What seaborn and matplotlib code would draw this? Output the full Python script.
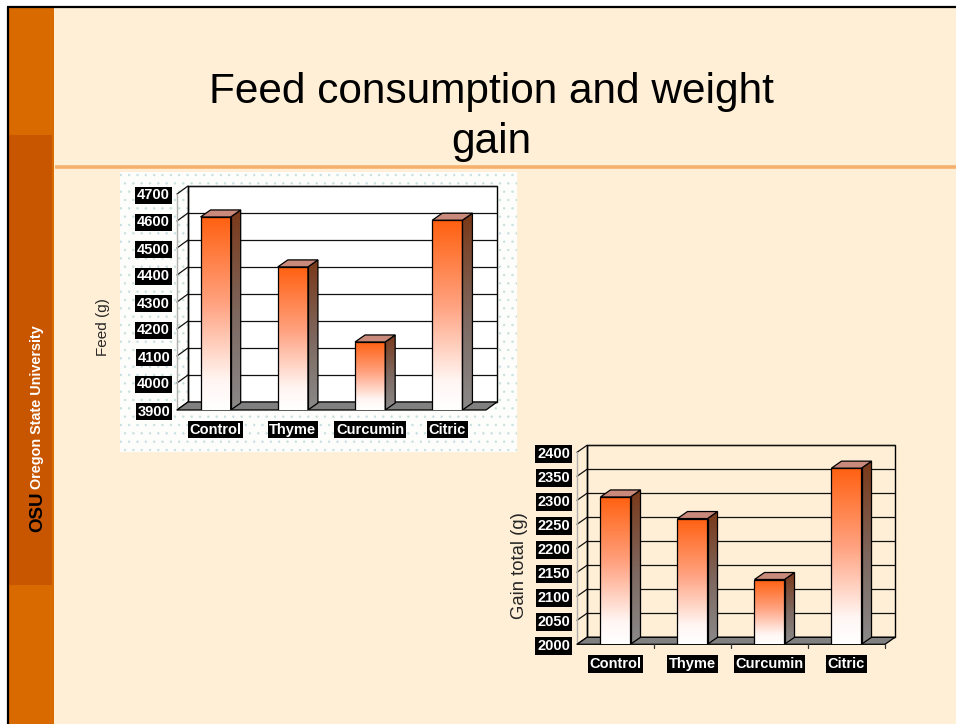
import numpy as np
import matplotlib
matplotlib.use('Agg')
import matplotlib.pyplot as plt
import seaborn as sns
import pandas as pd
from matplotlib.patches import Rectangle, Polygon
from matplotlib.colors import LinearSegmentedColormap

# ---------------- data ----------------
categories = ['Control', 'Thyme', 'Curcumin', 'Citric']
feed_values = [4615, 4430, 4152, 4603]
gain_values = [2307, 2262, 2135, 2367]
feed_ticks = [3900, 4000, 4100, 4200, 4300, 4400, 4500, 4600, 4700]
gain_ticks = [2000, 2050, 2100, 2150, 2200, 2250, 2300, 2350, 2400]
title_lines = ['Feed consumption and weight', 'gain']
feed_label = 'Feed (g)'
gain_label = 'Gain total (g)'

sns.set_style('white')
plt.rcParams['font.family'] = ['Liberation Sans', 'DejaVu Sans']

W, H = 956, 724
fig = plt.figure(figsize=(W / 100, H / 100), dpi=100)
fig.patch.set_facecolor('#FFEFD7')

# background / slide decoration axes in pixel coordinates
bg = fig.add_axes([0, 0, 1, 1], zorder=0)
bg.set_xlim(0, W)
bg.set_ylim(H, 0)
bg.axis('off')
bg.add_patch(Rectangle((0, 0), W, 7, fc='white', ec='none'))
bg.add_patch(Rectangle((0, 0), 7, H, fc='white', ec='none'))
bg.add_patch(Rectangle((8.5, 7.5), 46, H, fc='#D86A00', ec='none'))
bg.add_patch(Rectangle((8.5, 135), 43.5, 450, fc='#C85500', ec='none'))
bg.plot([7, W], [7, 7], color='black', lw=1.6, solid_capstyle='butt')
bg.plot([8, 8], [7, H], color='black', lw=1.6, solid_capstyle='butt')
bg.plot([55, W], [167, 167], color='#F4B06C', lw=2.6, solid_capstyle='butt')

# OSU logo text
bg.text(41, 407, 'Oregon State University', rotation=90, rotation_mode='anchor',
        ha='center', va='baseline', color='white', fontweight='bold', fontsize=10.4)
bg.text(42, 512, 'OSU', rotation=90, rotation_mode='anchor',
        ha='center', va='baseline', color='black', fontweight='bold', fontsize=13.5)

# title
bg.text(491, 103, title_lines[0], ha='center', va='baseline', fontsize=30.5, color='black')
bg.text(491, 153, title_lines[1], ha='center', va='baseline', fontsize=30.5, color='black')

# dotted panel behind chart 1
plt.rcParams['hatch.linewidth'] = 0.5
bg.add_patch(Rectangle((120, 172), 397, 280, fc='#FDFDFB', ec='#C6E0E0', hatch='..', lw=0))

# y labels
bg.text(103, 327, feed_label, rotation=90, ha='center', va='center', fontsize=11)
bg.text(520, 566, gain_label, rotation=90, ha='center', va='center', fontsize=13.3)

front_cmap = LinearSegmentedColormap.from_list(
    'front', [(0, '#FFFFFF'), (0.15, '#FFF6F3'), (0.55, '#FFA280'), (1, '#FF6010')])
side_cmap = LinearSegmentedColormap.from_list(
    'side', [(0, '#8A8A8A'), (0.45, '#7E6A62'), (1, '#7A3818')])
grad = np.linspace(0, 1, 256).reshape(-1, 1)


def draw_chart(rect_px, values, ticks, wall_off, bar_off, wall_face, bottom_ticks):
    x, y, w, h = rect_px
    ax = fig.add_axes([x / W, 1 - (y + h) / H, w / W, h / H], zorder=2)
    ax.set_facecolor('none')
    df = pd.DataFrame({'category': categories, 'value': values})
    sns.barplot(data=df, x='category', y='value', ax=ax, width=0.39, errorbar=None,
                color='#FF6010', saturation=1, edgecolor='black', linewidth=0.9, zorder=6)
    yb, yt = ticks[0], ticks[-1]
    ux = 4.0 / w
    uy = (yt - yb) / h
    wdx, wdy = wall_off[0] * ux, wall_off[1] * uy
    bdx, bdy = bar_off[0] * ux, bar_off[1] * uy

    # back wall
    ax.add_patch(Rectangle((-0.5 + wdx, yb + wdy), 4, yt - yb, fc=wall_face, ec='black',
                           lw=1.0, zorder=0.5, clip_on=False))
    for t in ticks:
        ax.plot([-0.5 + wdx, 3.5 + wdx], [t + wdy, t + wdy], color='#111111', lw=0.9,
                zorder=1, clip_on=False)
        ax.plot([-0.5, -0.5 + wdx], [t, t + wdy], color='#111111', lw=0.9,
                zorder=1, clip_on=False)
    ax.plot([-0.5, -0.5], [yb, yt], color='#B0B0B0', lw=1.0, zorder=1, clip_on=False)
    ax.plot([-0.5 + wdx, -0.5 + wdx], [yb + wdy, yt + wdy], color='black', lw=1.0,
            zorder=1, clip_on=False)
    # floor
    ax.add_patch(Polygon([(-0.5, yb), (3.5, yb), (3.5 + wdx, yb + wdy), (-0.5 + wdx, yb + wdy)],
                         closed=True, fc='#808080', ec='black', lw=0.9, zorder=2, clip_on=False))
    for b in bottom_ticks:
        ax.plot([b, b], [yb, yb - 4 * uy], color='#333333', lw=0.9, zorder=2, clip_on=False)

    # 3D bars
    for patch in list(ax.patches):
        if not isinstance(patch, Rectangle) or patch.get_zorder() != 6:
            continue
        x0 = patch.get_x()
        bw = patch.get_width()
        top = patch.get_y() + patch.get_height()
        x1 = x0 + bw
        patch.set_facecolor('none')
        im = ax.imshow(grad, extent=[x0, x1, yb, top], origin='lower', aspect='auto',
                       cmap=front_cmap, zorder=4, interpolation='bilinear')
        im.set_clip_path(patch)
        side = Polygon([(x1, yb), (x1, top), (x1 + bdx, top + bdy), (x1 + bdx, yb + bdy)],
                       closed=True, fc='none', ec='black', lw=0.9, zorder=6)
        ax.add_patch(side)
        ims = ax.imshow(grad, extent=[x1, x1 + bdx, yb, top + bdy], origin='lower',
                        aspect='auto', cmap=side_cmap, zorder=4, interpolation='bilinear')
        ims.set_clip_path(side)
        ax.add_patch(Polygon([(x0, top), (x1, top), (x1 + bdx, top + bdy), (x0 + bdx, top + bdy)],
                             closed=True, fc='#C98A7C', ec='black', lw=0.9, zorder=6))

    ax.set_xlim(-0.5, 3.5)
    ax.set_ylim(yb, yt)
    ax.set_yticks(ticks)
    ax.set_yticklabels([str(t) for t in ticks])
    ax.set_xticks(range(len(categories)))
    ax.set_xticklabels(categories)
    ax.set_xlabel('')
    ax.set_ylabel('')
    for s in ax.spines.values():
        s.set_visible(False)
    ax.tick_params(axis='y', length=0, pad=5)
    ax.tick_params(axis='x', length=0, pad=9)
    for lab in ax.get_yticklabels() + ax.get_xticklabels():
        lab.set_color('white')
        lab.set_fontweight('bold')
        lab.set_fontsize(10.5)
        lab.set_bbox(dict(boxstyle='square,pad=0.12', fc='black', ec='none'))
    ax.grid(False)
    return ax


draw_chart((177, 194, 309, 216), feed_values, feed_ticks, (11, 8), (10, 7), 'white', [])
draw_chart((577, 452.3, 308, 192), gain_values, gain_ticks, (10, 7), (10, 7), 'none',
           [0.5, 1.5, 2.5, 3.5])

fig.savefig('out.png', dpi=100, facecolor=fig.get_facecolor())
